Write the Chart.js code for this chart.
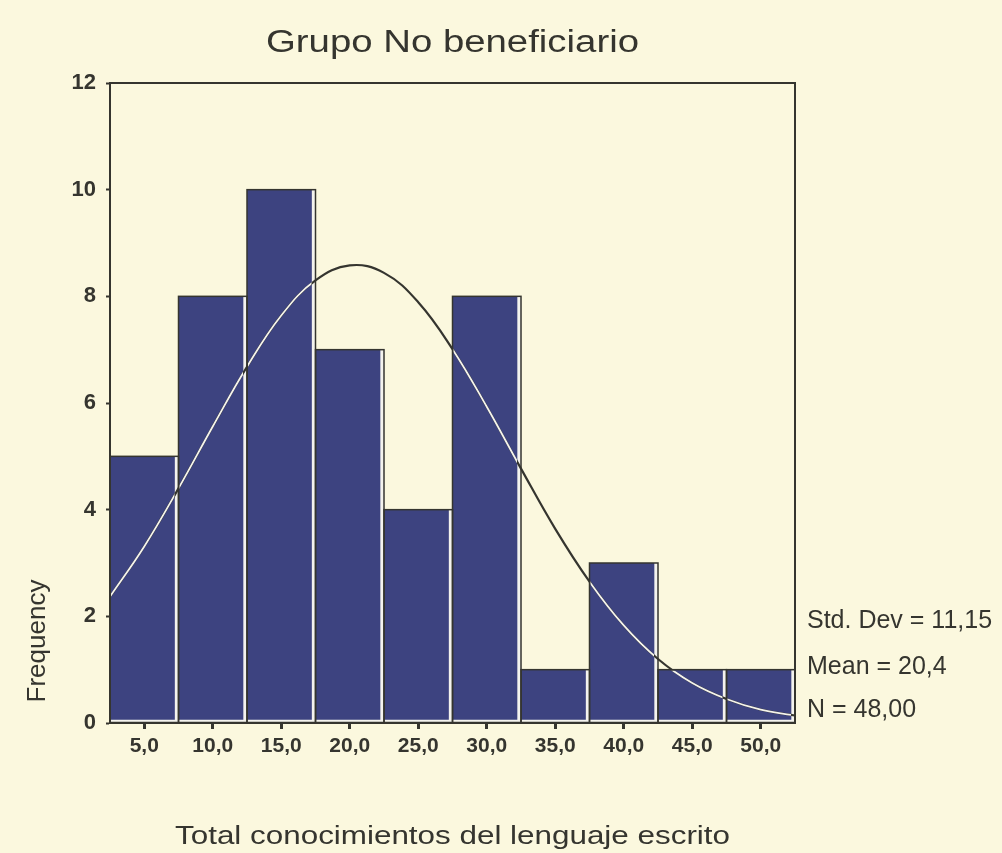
<!DOCTYPE html>
<html>
<head>
<meta charset="utf-8">
<script src="https://cdn.jsdelivr.net/npm/chart.js@4.4.0/dist/chart.umd.min.js"></script>
<style>
  body { margin: 0; background: #fbf8de; }
  canvas { display: block; }
</style>
</head>
<body>
<canvas id="histogram" width="1002" height="853"></canvas>
<script>
  // bins of the histogram (midpoints) and their counts
  var binLabels = ['5,0', '10,0', '15,0', '20,0', '25,0', '30,0', '35,0', '40,0', '45,0', '50,0'];
  var frequency = [5, 8, 10, 7, 4, 8, 1, 3, 1, 1];

  // normal curve
  var curveX = [2.5, 5, 7.5, 10, 12.5, 15, 17.5, 20, 22.5, 25, 27.5, 30, 32.5, 35, 37.5, 40, 42.5, 45, 47.5, 50, 52.5];
  var curveY = [2.37, 3.31, 4.40, 5.56, 6.68, 7.64, 8.30, 8.58, 8.44, 7.89, 7.01, 5.93, 4.77, 3.64, 2.65, 1.83, 1.20, 0.75, 0.45, 0.25, 0.14];

  var statLines = ['Std. Dev = 11,15', 'Mean = 20,4', 'N = 48,00'];
  var chartTitle = 'Grupo No beneficiario';
  var xTitle = 'Total conocimientos del lenguaje escrito';
  var yTitle = 'Frequency';

  var ink = '#35352f';
  var paper = '#fbf8de';
  var navy = '#3d4380';
  var fontFamily = '"Liberation Sans", Arial, sans-serif';

  // draws text stretched to a given width (the scan is wider than the font)
  function stretchText(ctx, text, x, y, font, width) {
    ctx.save();
    ctx.font = font;
    var natural = ctx.measureText(text).width;
    ctx.translate(x, y);
    ctx.scale(width / natural, 1);
    ctx.textAlign = 'center';
    ctx.textBaseline = 'alphabetic';
    ctx.fillText(text, 0, 0);
    ctx.restore();
  }

  var decorations = {
    id: 'decorations',
    beforeDraw: function (chart) {
      var ctx = chart.ctx;
      ctx.save();
      ctx.fillStyle = paper;
      ctx.fillRect(0, 0, chart.width, chart.height);
      ctx.restore();
    },
    afterDatasetsDraw: function (chart) {
      var ctx = chart.ctx;
      var bars = chart.getDatasetMeta(1).data;
      var pts = chart.getDatasetMeta(0).data;

      // dark outline round every bar
      ctx.save();
      ctx.strokeStyle = ink;
      ctx.lineWidth = 1.5;
      bars.forEach(function (b) {
        ctx.strokeRect(b.x - b.width / 2, b.y, b.width, b.base - b.y);
      });
      ctx.restore();

      // curve turns white where it runs over the navy fill
      ctx.save();
      ctx.beginPath();
      bars.forEach(function (b) {
        ctx.rect(b.x - b.width / 2 + 1, b.y + 1, b.width - 5, b.base - b.y - 4);
      });
      ctx.clip();
      ctx.beginPath();
      ctx.moveTo(pts[0].x, pts[0].y);
      for (var i = 1; i < pts.length; i++) {
        var p = pts[i - 1], c = pts[i];
        ctx.bezierCurveTo(p.cp2x, p.cp2y, c.cp1x, c.cp1y, c.x, c.y);
      }
      ctx.strokeStyle = '#f4f3ee';
      ctx.lineWidth = 1.8;
      ctx.stroke();
      ctx.restore();
    },
    afterDraw: function (chart) {
      var ctx = chart.ctx;
      var area = chart.chartArea;
      ctx.save();
      ctx.strokeStyle = ink;
      ctx.lineWidth = 2;
      ctx.strokeRect(area.left, area.top, area.right - area.left, area.bottom - area.top);

      ctx.fillStyle = ink;
      stretchText(ctx, chartTitle, (area.left + area.right) / 2, 52, '31px ' + fontFamily, 373);
      stretchText(ctx, xTitle, (area.left + area.right) / 2, 844, '26px ' + fontFamily, 555);

      ctx.save();
      ctx.translate(45, 641);
      ctx.rotate(-Math.PI / 2);
      ctx.font = '26px ' + fontFamily;
      ctx.textAlign = 'center';
      ctx.textBaseline = 'alphabetic';
      ctx.fillText(yTitle, 0, 0);
      ctx.restore();

      ctx.font = '25px ' + fontFamily;
      ctx.textAlign = 'left';
      ctx.textBaseline = 'middle';
      var statY = [621, 667, 710];
      statLines.forEach(function (s, i) {
        ctx.fillText(s, 807, statY[i]);
      });
      ctx.restore();
    }
  };

  var curvePoints = curveX.map(function (x, i) { return {x: x, y: curveY[i]}; });

  var ctx = document.getElementById('histogram').getContext('2d');
  window.histogramChart = new Chart(ctx, {
    type: 'bar',
    data: {
      labels: binLabels,
      datasets: [
        {
          type: 'line',
          data: curvePoints,
          xAxisID: 'x2',
          yAxisID: 'y',
          borderColor: ink,
          borderWidth: 2.2,
          pointRadius: 0,
          tension: 0.4,
          fill: false,
          order: 0
        },
        {
          data: frequency,
          xAxisID: 'x',
          yAxisID: 'y',
          backgroundColor: navy,
          borderColor: '#f4f3ee',
          borderWidth: {top: 0, left: 0, right: 4, bottom: 3},
          borderSkipped: false,
          barPercentage: 1,
          categoryPercentage: 1,
          grouped: false,
          order: 1
        }
      ]
    },
    options: {
      responsive: false,
      animation: false,
      events: [],
      layout: {
        padding: {left: 0, right: 207, top: 83, bottom: 0}
      },
      plugins: {
        legend: {display: false},
        tooltip: {enabled: false},
        title: {display: false}
      },
      scales: {
        x: {
          type: 'category',
          offset: true,
          position: 'bottom',
          afterFit: function (scale) { scale.height = 130; },
          grid: {
            display: true,
            drawOnChartArea: false,
            offset: false,
            tickLength: 6,
            tickWidth: 3,
            tickColor: ink
          },
          border: {color: ink, width: 2},
          ticks: {
            color: ink,
            padding: 5,
            maxRotation: 0,
            font: {family: fontFamily, size: 21, weight: 'bold'}
          }
        },
        x2: {
          type: 'linear',
          display: false,
          offset: false,
          grid: {offset: false},
          min: 2.5,
          max: 52.5
        },
        y: {
          min: 0,
          max: 12,
          afterFit: function (scale) { scale.width = 110; },
          grid: {
            display: true,
            drawOnChartArea: false,
            tickLength: 4,
            tickWidth: 2,
            tickColor: ink
          },
          border: {color: ink, width: 2},
          ticks: {
            stepSize: 2,
            color: ink,
            padding: 10,
            font: {family: fontFamily, size: 22, weight: 'bold'}
          }
        }
      }
    },
    plugins: [decorations]
  });
</script>
</body>
</html>
